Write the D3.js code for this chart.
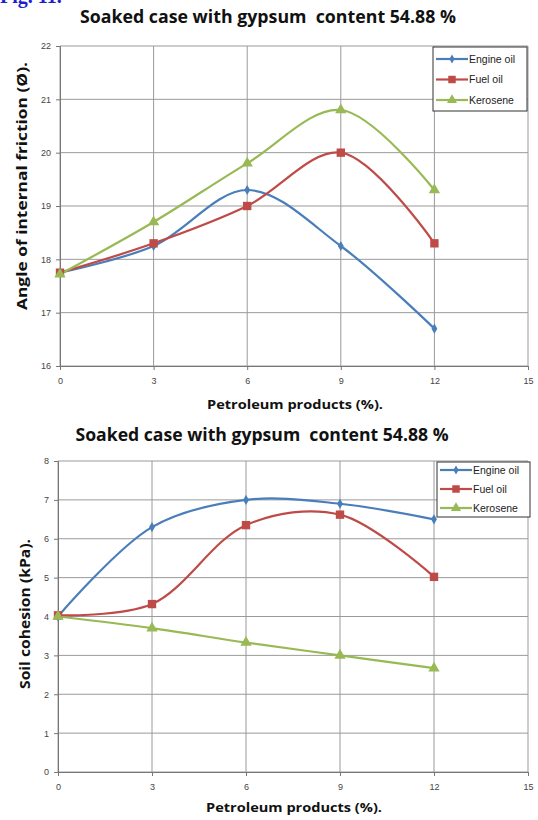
<!DOCTYPE html>
<html><head><meta charset="utf-8">
<script src="https://cdn.jsdelivr.net/npm/d3@7"></script>
<style>body{margin:0;background:#fff}svg{display:block}</style>
</head><body>
<svg id="c" width="538" height="820"></svg>
<script>
const xValues = [0, 3, 6, 9, 12];
const xTicks = [0, 3, 6, 9, 12, 15];
const seriesNames = ["Engine oil", "Fuel oil", "Kerosene"];
// Chart 1: angle of internal friction
const frictionEngine = [17.75, 18.25, 19.3, 18.25, 16.7];
const frictionFuel = [17.75, 18.3, 19.0, 20.0, 18.3];
const frictionKero = [17.72, 18.7, 19.8, 20.8, 19.3];
const frictionTicks = [16, 17, 18, 19, 20, 21, 22];
// Chart 2: soil cohesion
const cohesionEngine = [4.0, 6.3, 7.0, 6.9, 6.5];
const cohesionFuel = [4.03, 4.32, 6.35, 6.62, 5.02];
const cohesionKero = [4.0, 3.7, 3.33, 3.0, 2.67];
const cohesionTicks = [0, 1, 2, 3, 4, 5, 6, 7, 8];

const colors = ["#4a7ebb", "#be4b48", "#98b954"];
const svg = d3.select("#c");

svg.append("text").attr("x", 0).attr("y", 3).attr("font-family", "Liberation Serif")
  .attr("font-size", 20).attr("font-weight", "bold").attr("fill", "#1f1fd0").text("Fig. 11.");

function fitText(sel, len) {
  return sel.attr("textLength", len).attr("lengthAdjust", "spacingAndGlyphs");
}

function chart(cfg) {
  const g = svg.append("g");
  const x = d3.scaleLinear().domain([0, 15]).range([cfg.left, cfg.right]);
  const y = d3.scaleLinear().domain(cfg.ydom).range([cfg.bottom, cfg.top]);
  // title
  fitText(g.append("text").attr("x", cfg.titleX).attr("y", cfg.titleY).attr("text-anchor", "middle")
    .attr("font-family", "Open Sans, Liberation Sans").attr("font-weight", "bold").attr("font-size", 17)
    .attr("fill", "#111").style("white-space", "pre").text("Soaked case with gypsum  content 54.88 %"), cfg.titleW);
  // grid
  g.selectAll(".hg").data(cfg.yticks).join("line").attr("x1", cfg.left).attr("x2", cfg.right)
    .attr("y1", d => y(d)).attr("y2", d => y(d)).attr("stroke", "#9a9a9a").attr("stroke-width", 1);
  g.selectAll(".vg").data(xTicks).join("line").attr("y1", cfg.top).attr("y2", cfg.bottom)
    .attr("x1", d => x(d)).attr("x2", d => x(d)).attr("stroke", "#9a9a9a").attr("stroke-width", 1);
  // axes
  const ax = g.append("g").attr("transform", `translate(0,${cfg.bottom})`)
    .call(d3.axisBottom(x).tickValues(xTicks).tickFormat(d3.format("d")).tickSize(4).tickPadding(8));
  const ay = g.append("g").attr("transform", `translate(${cfg.left},0)`)
    .call(d3.axisLeft(y).tickValues(cfg.yticks).tickFormat(d3.format("d")).tickSize(4).tickPadding(5));
  [ax, ay].forEach(a => {
    a.select(".domain").attr("stroke", "#777");
    a.selectAll(".tick line").attr("stroke", "#777");
    a.selectAll("text").attr("font-family", "Liberation Sans").attr("font-size", 9).attr("fill", "#444");
  });
  // axis titles
  fitText(g.append("text").attr("x", cfg.xtX).attr("y", cfg.xtY).attr("text-anchor", "middle")
    .attr("font-family", "Open Sans, Liberation Sans").attr("font-weight", "bold").attr("font-size", 13)
    .attr("fill", "#111").text("Petroleum products (%)."), 176);
  fitText(g.append("text").attr("transform", `translate(${cfg.ytX},${cfg.ytY}) rotate(-90)`).attr("text-anchor", "middle")
    .attr("font-family", "Open Sans, Liberation Sans").attr("font-weight", "bold").attr("font-size", 15)
    .attr("fill", "#111").text(cfg.ytitle), cfg.ytW);
  // lines
  const line = d3.line().x((d, i) => x(xValues[i])).y(d => y(d)).curve(d3.curveCatmullRom.alpha(0.5));
  cfg.series.forEach((s, k) => {
    g.append("path").attr("d", line(s)).attr("fill", "none").attr("stroke", colors[k]).attr("stroke-width", 2.2);
  });
  const sym = [d3.symbolDiamond, d3.symbolSquare, d3.symbolTriangle];
  const sizes = [30, 70, 55];
  cfg.series.forEach((s, k) => {
    g.selectAll(null).data(s).join("path")
      .attr("transform", (d, i) => `translate(${x(xValues[i])},${y(d)})`)
      .attr("d", d3.symbol().type(sym[k]).size(sizes[k])).attr("fill", colors[k]);
  });
  // legend
  const L = cfg.legend;
  g.append("rect").attr("x", L.x).attr("y", L.y).attr("width", L.w).attr("height", L.h)
    .attr("fill", "#fff").attr("stroke", "#333").attr("stroke-width", 1);
  seriesNames.forEach((n, k) => {
    const yy = L.y + L.first + k * L.step;
    g.append("line").attr("x1", L.x + 3).attr("x2", L.x + 35).attr("y1", yy).attr("y2", yy)
      .attr("stroke", colors[k]).attr("stroke-width", 2.2);
    g.append("path").attr("transform", `translate(${L.x + 19},${yy})`)
      .attr("d", d3.symbol().type(sym[k]).size(sizes[k] * 0.8)).attr("fill", colors[k]);
    g.append("text").attr("x", L.x + 36).attr("y", yy + 3.5).attr("font-family", "Liberation Sans")
      .attr("font-size", 10.5).attr("fill", "#222").text(n);
  });
}

chart({left: 60, right: 528, top: 46, bottom: 366, ydom: [16, 22], yticks: frictionTicks,
  titleX: 268, titleY: 23, titleW: 376, xtX: 295, xtY: 409, ytX: 27, ytY: 186, ytW: 248,
  ytitle: "Angle of internal friction (Ø).",
  series: [frictionEngine, frictionFuel, frictionKero],
  legend: {x: 433, y: 47, w: 94, h: 64, first: 12, step: 20.5}});

chart({left: 58, right: 528, top: 461, bottom: 772, ydom: [0, 8], yticks: cohesionTicks,
  titleX: 262, titleY: 441, titleW: 373, xtX: 294, xtY: 812, ytX: 30, ytY: 614, ytW: 150,
  ytitle: "Soil cohesion (kPa).",
  series: [cohesionEngine, cohesionFuel, cohesionKero],
  legend: {x: 437, y: 462, w: 93, h: 55, first: 8, step: 19}});
</script>
</body></html>
